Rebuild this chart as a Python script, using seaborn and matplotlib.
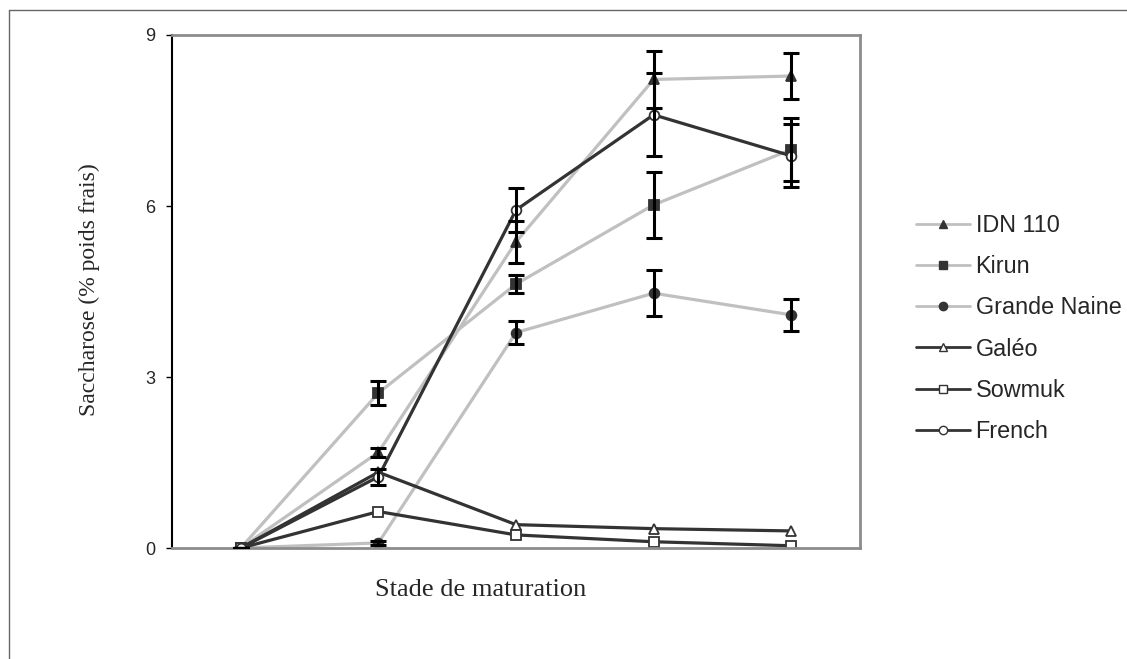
import numpy as np
import pandas as pd
import matplotlib
matplotlib.use("Agg")
import matplotlib.pyplot as plt
import seaborn as sns
from matplotlib.lines import Line2D

# =====================================================
# DATA
# =====================================================

stades = [1, 2, 3, 4, 5]

varietes = ["IDN 110", "Kirun", "Grande Naine", "Galéo", "Sowmuk", "French"]

idn_110 = [0.0, 1.68, 5.37, 8.22, 8.28]
kirun = [0.0, 2.72, 4.63, 6.02, 6.99]
grande_naine = [0.0, 0.09, 3.78, 4.47, 4.09]
galeo = [0.0, 1.33, 0.41, 0.34, 0.30]
sowmuk = [0.0, 0.64, 0.23, 0.11, 0.04]
french = [0.0, 1.25, 5.93, 7.60, 6.88]

err_idn_110 = [0.0, 0.08, 0.37, 0.50, 0.41]
err_kirun = [0.0, 0.21, 0.16, 0.58, 0.55]
err_grande_naine = [0.0, 0.03, 0.20, 0.40, 0.28]
err_french = [0.0, 0.14, 0.38, 0.73, 0.55]

y_ticks = [0, 3, 6, 9]

# =====================================================
# STYLE
# =====================================================

sns.set_style("white")
plt.rcParams["font.family"] = ["Liberation Sans", "DejaVu Sans"]

LIGHT = "#c0c0c0"
DARK = "#333333"

styles = {
    "IDN 110": dict(color=LIGHT, marker="^", mfc=DARK, mec=DARK),
    "Kirun": dict(color=LIGHT, marker="s", mfc=DARK, mec=DARK),
    "Grande Naine": dict(color=LIGHT, marker="o", mfc=DARK, mec=DARK),
    "Galéo": dict(color=DARK, marker="^", mfc="white", mec=DARK),
    "Sowmuk": dict(color=DARK, marker="s", mfc="white", mec=DARK),
    "French": dict(color=DARK, marker="o", mfc="white", mec=DARK),
}

values = {
    "IDN 110": idn_110,
    "Kirun": kirun,
    "Grande Naine": grande_naine,
    "Galéo": galeo,
    "Sowmuk": sowmuk,
    "French": french,
}

errors = {
    "IDN 110": err_idn_110,
    "Kirun": err_kirun,
    "Grande Naine": err_grande_naine,
    "French": err_french,
}

# =====================================================
# FIGURE
# =====================================================

fig = plt.figure(figsize=(11.27, 6.59), dpi=100)
ax = fig.add_axes([0.1526, 0.1684, 0.6105, 0.7785])

for name in varietes:

    df = pd.DataFrame({"stade": stades, "saccharose": values[name]})
    st = styles[name]

    sns.lineplot(
        data=df,
        x="stade",
        y="saccharose",
        ax=ax,
        color=st["color"],
        linewidth=2.3,
        marker=st["marker"],
        markersize=7,
        markerfacecolor=st["mfc"],
        markeredgecolor=st["mec"],
        markeredgewidth=1.3,
        label=name,
    )

for name, err in errors.items():

    ax.errorbar(
        stades,
        values[name],
        yerr=err,
        fmt="none",
        ecolor="black",
        elinewidth=2.2,
        capsize=5.5,
        capthick=2.2,
        zorder=3,
    )

# =====================================================
# AXES
# =====================================================

ax.set_xlim(0.5, 5.5)
ax.set_ylim(0, 9)
ax.set_yticks(y_ticks)
ax.set_xticks([])
ax.set_xlabel("")
ax.set_ylabel("")

ax.tick_params(axis="y", which="both", left=True, direction="out",
               length=4, width=1, color="black", pad=8, labelsize=13)

for side in ["top", "right", "bottom"]:
    ax.spines[side].set_color("#8c8c8c")
    ax.spines[side].set_linewidth(2)
ax.spines["left"].set_color("black")
ax.spines["left"].set_linewidth(1.5)

ax.get_legend().remove()

fig.text(0.4264, 0.105, "Stade de maturation",
         family=["Liberation Serif", "DejaVu Serif"], fontsize=19,
         ha="center", va="center")

fig.text(0.079, 0.56, "Saccharose (% poids frais)",
         family=["Liberation Serif", "DejaVu Serif"], fontsize=17,
         rotation=90, ha="center", va="center")

# =====================================================
# LEGEND
# =====================================================

leg_handles = []
for name in varietes:
    st = styles[name]
    leg_handles.append(
        Line2D([0], [0], color=st["color"], linewidth=2,
               marker=st["marker"], markersize=6,
               markerfacecolor=st["mfc"], markeredgecolor=st["mec"],
               markeredgewidth=1)
    )

fig.legend(
    leg_handles,
    varietes,
    loc="center left",
    bbox_to_anchor=(0.8128, 0.5015),
    frameon=False,
    fontsize=16.8,
    handlelength=2.3,
    handletextpad=0.25,
    labelspacing=0.78,
    borderpad=0,
    borderaxespad=0,
)

# =====================================================
# OUTER BORDER LINES
# =====================================================

fig.add_artist(Line2D([9 / 1127, 1], [1 - 10 / 659, 1 - 10 / 659],
                      color="#666666", linewidth=1))
fig.add_artist(Line2D([9 / 1127, 9 / 1127], [0, 1 - 10 / 659],
                      color="#666666", linewidth=1))

plt.savefig("out.png", dpi=100)
plt.close()
